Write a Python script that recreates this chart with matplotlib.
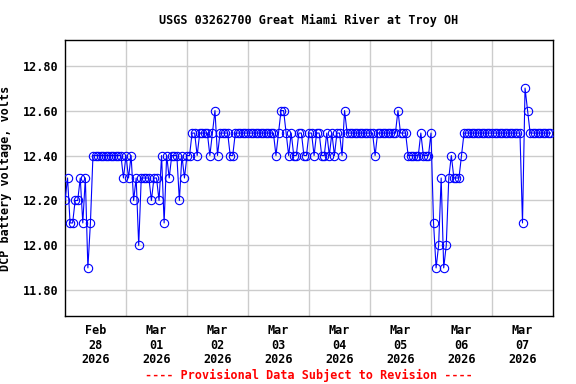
import numpy as np
import pandas as pd
import matplotlib
matplotlib.use("Agg")
import matplotlib.pyplot as plt
import matplotlib.dates as mdates

# hourly DCP battery voltage, Feb 28 00:00 -> Mar 07 23:00
start = "2026-02-28 00:00"
day1 = [12.2, 12.3, 12.1, 12.1, 12.2, 12.2, 12.3, 12.1, 12.3, 11.9, 12.1, 12.4,
        12.4, 12.4, 12.4, 12.4, 12.4, 12.4, 12.4, 12.4, 12.4, 12.4, 12.4, 12.3]
day2 = [12.4, 12.3, 12.4, 12.2, 12.3, 12.0, 12.3, 12.3, 12.3, 12.3, 12.2, 12.3,
        12.3, 12.2, 12.4, 12.1, 12.4, 12.3, 12.4, 12.4, 12.4, 12.2, 12.4, 12.3]
day3 = [12.4, 12.4, 12.5, 12.5, 12.4, 12.5, 12.5, 12.5, 12.5, 12.4, 12.5, 12.6,
        12.4, 12.5, 12.5, 12.5, 12.5, 12.4, 12.4, 12.5, 12.5, 12.5, 12.5, 12.5]
day4 = [12.5, 12.5, 12.5, 12.5, 12.5, 12.5, 12.5, 12.5, 12.5, 12.5, 12.5, 12.4,
        12.5, 12.6, 12.6, 12.5, 12.4, 12.5, 12.4, 12.4, 12.5, 12.5, 12.4, 12.4]
day5 = [12.5, 12.5, 12.4, 12.5, 12.5, 12.4, 12.4, 12.5, 12.4, 12.5, 12.4, 12.5,
        12.5, 12.4, 12.6, 12.5, 12.5, 12.5, 12.5, 12.5, 12.5, 12.5, 12.5, 12.5]
day6 = [12.5, 12.5, 12.4, 12.5, 12.5, 12.5, 12.5, 12.5, 12.5, 12.5, 12.5, 12.6,
        12.5, 12.5, 12.5, 12.4, 12.4, 12.4, 12.4, 12.4, 12.5, 12.4, 12.4, 12.4]
day7 = [12.5, 12.1, 11.9, 12.0, 12.3, 11.9, 12.0, 12.3, 12.4, 12.3, 12.3, 12.3,
        12.4, 12.5, 12.5, 12.5, 12.5, 12.5, 12.5, 12.5, 12.5, 12.5, 12.5, 12.5]
day8 = [12.5, 12.5, 12.5, 12.5, 12.5, 12.5, 12.5, 12.5, 12.5, 12.5, 12.5, 12.5,
        12.1, 12.7, 12.6, 12.5, 12.5, 12.5, 12.5, 12.5, 12.5, 12.5, 12.5, 12.5]

volts = day1 + day2 + day3 + day4 + day5 + day6 + day7 + day8
times = pd.date_range(start, periods=len(volts), freq="h")

ytick_vals = [11.8, 12.0, 12.2, 12.4, 12.6, 12.8]
day_labels = ["Feb\n28\n2026", "Mar\n01\n2026", "Mar\n02\n2026", "Mar\n03\n2026",
              "Mar\n04\n2026", "Mar\n05\n2026", "Mar\n06\n2026", "Mar\n07\n2026"]

font = "DejaVu Sans Mono"
fig = plt.figure(figsize=(5.76, 3.84), dpi=100)
ax = fig.add_axes([65 / 576, 1 - 316 / 384, 488 / 576, 276 / 384])

ax.plot(times, volts, color="blue", linewidth=0.8, marker="o", markersize=6,
        markerfacecolor="none", markeredgecolor="blue", markeredgewidth=0.8,
        zorder=3)

t0 = pd.Timestamp(start)
ax.set_xlim(t0, t0 + pd.Timedelta(days=8))
ax.set_ylim(11.686, 12.914)

# labels at noon, grid at midnight
noons = [t0 + pd.Timedelta(hours=12 + 24 * i) for i in range(8)]
mids = [t0 + pd.Timedelta(days=i) for i in range(1, 8)]
ax.set_xticks(noons)
ax.set_xticklabels(day_labels, fontfamily=font, fontweight="bold", fontsize=8.5,
                   linespacing=1.15)
ax.set_xticks(mids, minor=True)
ax.tick_params(axis="x", which="both", length=0, pad=6)
ax.grid(False)
ax.grid(True, which="minor", axis="x", color="#cccccc", linewidth=1)

ax.set_yticks(ytick_vals)
ax.set_yticklabels([f"{v:.2f}" for v in ytick_vals], fontfamily=font,
                   fontweight="bold", fontsize=8.5)
ax.tick_params(axis="y", length=0, pad=5)
ax.grid(True, which="major", axis="y", color="#cccccc", linewidth=1)
ax.set_axisbelow(True)

for s in ax.spines.values():
    s.set_linewidth(1.0)
    s.set_color("black")

ax.set_ylabel("DCP battery voltage, volts", fontfamily=font, fontweight="bold",
              fontsize=8.5)
ax.yaxis.set_label_coords((12 - 65) / 488, 0.5)
fig.text(309 / 576, 1 - 20 / 384, "USGS 03262700 Great Miami River at Troy OH",
         ha="center", va="center", fontfamily=font, fontweight="bold", fontsize=8.5)
fig.text(309 / 576, 1 - 375 / 384, "---- Provisional Data Subject to Revision ----",
         ha="center", va="center", color="red", fontfamily=font,
         fontweight="bold", fontsize=8.5)

fig.savefig("out.png", dpi=100)
